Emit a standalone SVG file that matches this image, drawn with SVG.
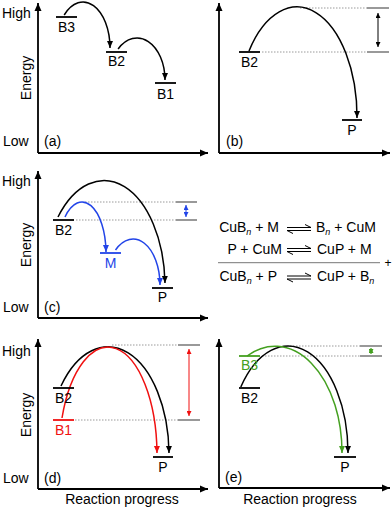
<svg xmlns="http://www.w3.org/2000/svg" width="392" height="511" viewBox="0 0 392 511">
<defs>
<style>
text{font-family:"Liberation Sans",Arial,sans-serif;font-size:14px;fill:#000}
.ax{stroke:#000;stroke-width:1.8;fill:none;marker-end:url(#ak)}
.lv{stroke:#000;stroke-width:1.8}
.arc{fill:none;stroke-width:1.5}
.dot{stroke:#9a9a9a;stroke-width:1;stroke-dasharray:1.5 1.5}
.ref{stroke:#555;stroke-width:1.2}
.sub{font-size:9px;font-style:italic}
.hp{stroke:#000;stroke-width:1;fill:none}
</style>
<marker id="ak" markerUnits="userSpaceOnUse" markerWidth="9" markerHeight="8" refX="8" refY="4" orient="auto"><path d="M0,0.5 L8,4 L0,7.5 z" fill="#000"/></marker>
<marker id="mk" markerUnits="userSpaceOnUse" markerWidth="8" markerHeight="7" refX="7" refY="3" orient="auto-start-reverse"><path d="M0,0 L7,3 L0,6 z" fill="#000"/></marker>
<marker id="mb" markerUnits="userSpaceOnUse" markerWidth="8" markerHeight="7" refX="7" refY="3" orient="auto-start-reverse"><path d="M0,0 L7,3 L0,6 z" fill="#2244e8"/></marker>
<marker id="mr" markerUnits="userSpaceOnUse" markerWidth="8" markerHeight="7" refX="7" refY="3" orient="auto-start-reverse"><path d="M0,0 L7,3 L0,6 z" fill="#f01010"/></marker>
<marker id="mg" markerUnits="userSpaceOnUse" markerWidth="8" markerHeight="7" refX="7" refY="3" orient="auto-start-reverse"><path d="M0,0 L7,3 L0,6 z" fill="#44a020"/></marker>
<marker id="ms" markerUnits="userSpaceOnUse" markerWidth="6" markerHeight="5" refX="5" refY="2.5" orient="auto-start-reverse"><path d="M0,0 L5,2.5 L0,5 z" fill="#000"/></marker>
<marker id="msb" markerUnits="userSpaceOnUse" markerWidth="6" markerHeight="5" refX="5" refY="2.5" orient="auto-start-reverse"><path d="M0,0 L5,2.5 L0,5 z" fill="#2244e8"/></marker>
<marker id="msr" markerUnits="userSpaceOnUse" markerWidth="6" markerHeight="5" refX="5" refY="2.5" orient="auto-start-reverse"><path d="M0,0 L5,2.5 L0,5 z" fill="#f01010"/></marker>
<marker id="msg" markerUnits="userSpaceOnUse" markerWidth="6" markerHeight="5" refX="5" refY="2.5" orient="auto-start-reverse"><path d="M0,0 L5,2.5 L0,5 z" fill="#44a020"/></marker>
</defs>

<!-- axes -->
<g id="axes">
<path class="ax" d="M38,153 V3"/><path class="ax" d="M38,153 H208"/>
<path class="ax" d="M219,153 V3"/><path class="ax" d="M219,153 H390"/>
<path class="ax" d="M38,318 V171"/><path class="ax" d="M38,318 H208"/>
<path class="ax" d="M38,489 V339"/><path class="ax" d="M38,489 H208"/>
<path class="ax" d="M219,488 V339"/><path class="ax" d="M219,488 H390"/>
</g>

<g id="axis-labels">
<text x="2" y="18">High</text><text x="3" y="146">Low</text>
<text transform="translate(31,78) rotate(-90)" text-anchor="middle">Energy</text>
<text x="2" y="186">High</text><text x="3" y="312">Low</text>
<text transform="translate(31,245) rotate(-90)" text-anchor="middle">Energy</text>
<text x="2" y="356">High</text><text x="3" y="483">Low</text>
<text transform="translate(31,415) rotate(-90)" text-anchor="middle">Energy</text>
<text x="122" y="504" text-anchor="middle">Reaction progress</text>
<text x="300" y="504" text-anchor="middle">Reaction progress</text>
<text x="44" y="146">(a)</text>
<text x="226" y="146">(b)</text>
<text x="44" y="312">(c)</text>
<text x="44" y="483">(d)</text>
<text x="225" y="482">(e)</text>
</g>

<!-- reference lines -->
<g id="connectors">
<!-- b -->
<line class="dot" x1="300" y1="8" x2="367" y2="8"/><line class="ref" x1="367" y1="8" x2="389" y2="8"/>
<line class="dot" x1="262" y1="52" x2="367" y2="52"/><line class="ref" x1="367" y1="52" x2="389" y2="52"/>
<line stroke="#000" stroke-width="1" x1="378" y1="13" x2="378" y2="47" marker-start="url(#ms)" marker-end="url(#ms)"/>
<!-- c -->
<line class="dot" x1="85" y1="202" x2="176" y2="202"/><line class="ref" x1="176" y1="202" x2="197" y2="202"/>
<line class="dot" x1="76" y1="220" x2="176" y2="220"/><line class="ref" x1="176" y1="220" x2="197" y2="220"/>
<line stroke="#2244e8" stroke-width="1" x1="186" y1="205" x2="186" y2="217" marker-start="url(#msb)" marker-end="url(#msb)"/>
<!-- d -->
<line class="dot" x1="112" y1="345" x2="178" y2="345"/><line class="ref" x1="178" y1="345" x2="200" y2="345"/>
<line class="dot" x1="75" y1="420" x2="178" y2="420"/><line class="ref" x1="178" y1="420" x2="200" y2="420"/>
<line stroke="#f01010" stroke-width="1" x1="189" y1="349" x2="189" y2="416" marker-start="url(#msr)" marker-end="url(#msr)"/>
<!-- e -->
<line class="dot" x1="290" y1="346" x2="360" y2="346"/><line class="ref" x1="360" y1="346" x2="382" y2="346"/>
<line class="dot" x1="262" y1="356" x2="360" y2="356"/><line class="ref" x1="360" y1="356" x2="382" y2="356"/>
<line stroke="#44a020" stroke-width="1" x1="371" y1="348" x2="371" y2="354" marker-start="url(#msg)" marker-end="url(#msg)"/>

<!-- arcs -->
<path class="arc" stroke="#000" d="M64.2,15 A27,46 0 0 1 110,48" marker-end="url(#mk)"/>
<path class="arc" stroke="#000" d="M118.1,49 A28,42 0 0 1 165,80" marker-end="url(#mk)"/>
<path class="arc" stroke="#000" d="M249,51 A60,110 0 0 1 357,118" marker-end="url(#mk)"/>
<path class="arc" stroke="#000" d="M58,217 A61,106 0 0 1 165,283" marker-end="url(#mk)"/>
<path class="arc" stroke="#2244e8" d="M65,217 A24,51 0 0 1 106,252" marker-end="url(#mb)"/>
<path class="arc" stroke="#2244e8" d="M115.5,250 A27,46 0 0 1 160,285" marker-end="url(#mb)"/>
<path class="arc" stroke="#000" d="M61,386 A61,108 0 0 1 169,453" marker-end="url(#mk)"/>
<path class="arc" stroke="#f01010" d="M62,418 A49,108 0 0 1 157,453" marker-end="url(#mr)"/>
<path class="arc" stroke="#000" d="M240.8,387 A60,107 0 0 1 348,453" marker-end="url(#mk)"/>
<path class="arc" stroke="#44a020" d="M247,356 A67,106 0 0 1 342,453" marker-end="url(#mg)"/>
</g>

<!-- levels -->
<g id="a-B3"><line class="lv" x1="56" y1="17" x2="77" y2="17"/><text x="66.5" y="32" text-anchor="middle">B3</text></g>
<g id="a-B2"><line class="lv" x1="106" y1="52" x2="127" y2="52"/><text x="116.5" y="66" text-anchor="middle">B2</text></g>
<g id="a-B1"><line class="lv" x1="155" y1="83" x2="176" y2="83"/><text x="165.5" y="99" text-anchor="middle">B1</text></g>

<g id="b-B2"><line class="lv" x1="239" y1="52" x2="260" y2="52"/><text x="249.5" y="67" text-anchor="middle">B2</text></g>
<g id="b-P"><line class="lv" x1="342" y1="120" x2="362" y2="120"/><text x="352" y="135" text-anchor="middle">P</text></g>

<g id="c-B2"><line class="lv" x1="53" y1="220" x2="74" y2="220"/><text x="63.5" y="235" text-anchor="middle">B2</text></g>
<g id="c-M"><line stroke="#2244e8" stroke-width="1.8" x1="100" y1="253" x2="121" y2="253"/><text x="110.5" y="268" text-anchor="middle" style="fill:#2244e8">M</text></g>
<g id="c-P"><line class="lv" x1="152" y1="288" x2="173" y2="288"/><text x="162.5" y="302" text-anchor="middle">P</text></g>

<g id="d-B2"><line class="lv" x1="53" y1="388" x2="74" y2="388"/><text x="63.5" y="403" text-anchor="middle">B2</text></g>
<g id="d-B1"><line stroke="#f01010" stroke-width="1.8" x1="53" y1="420" x2="74" y2="420"/><text x="63.5" y="435" text-anchor="middle" style="fill:#f01010">B1</text></g>
<g id="d-P"><line class="lv" x1="153" y1="457" x2="173" y2="457"/><text x="163" y="472" text-anchor="middle">P</text></g>

<g id="e-B3"><line stroke="#44a020" stroke-width="1.8" x1="239" y1="356" x2="260" y2="356"/><text x="249.5" y="370" text-anchor="middle" style="fill:#44a020">B3</text></g>
<g id="e-B2"><line class="lv" x1="239" y1="388" x2="260" y2="388"/><text x="249.5" y="403" text-anchor="middle">B2</text></g>
<g id="e-P"><line class="lv" x1="334" y1="457" x2="356" y2="457"/><text x="345" y="472" text-anchor="middle">P</text></g>

<!-- equations -->
<g id="equations">
<text x="279" y="232" text-anchor="end">CuB<tspan class="sub" dy="3">n</tspan><tspan dy="-3"> + M</tspan></text>
<path class="hp" d="M287,227.5 H311 L305,224.5 M311,230.5 H287 L293,233.5"/>
<text x="316" y="232">B<tspan class="sub" dy="3">n</tspan><tspan dy="-3"> + CuM</tspan></text>

<text x="282" y="253.5" text-anchor="end">P + CuM</text>
<path class="hp" d="M287,248.5 H311 L305,245.5 M311,251.5 H287 L293,254.5"/>
<text x="317" y="253.5">CuP + M</text>

<line stroke="#777" stroke-width="1" x1="218" y1="262.7" x2="380" y2="262.7"/>
<text x="384.5" y="266.5" style="font-size:12px">+</text>

<text x="277" y="281" text-anchor="end">CuB<tspan class="sub" dy="3">n</tspan><tspan dy="-3"> + P</tspan></text>
<path class="hp" d="M287,276 H311 L305,273 M311,279 H287 L293,282"/>
<text x="317" y="281">CuP + B<tspan class="sub" dy="3">n</tspan></text>
</g>
</svg>
